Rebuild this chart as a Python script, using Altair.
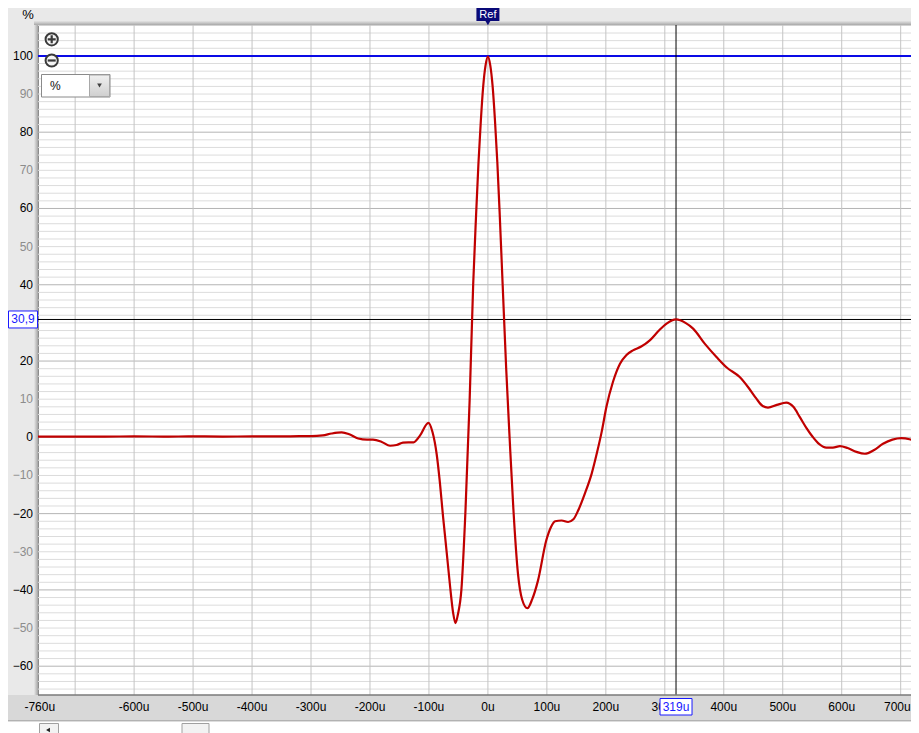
import altair as alt
import pandas as pd

# ---------------- data ----------------
t_us = [-763, -700, -650, -600, -550, -500, -450, -400, -350, -320, -300, -280, -265,
        -248, -235, -220, -205, -195, -180, -166, -155, -144, -135, -126, -115, -101,
        -94, -87, -82, -76, -70, -64, -59, -55, -51, -45, -38, -31, -25, -20, -16, -12,
        -8, -4, 0, 4, 8, 12, 16, 20, 25, 31, 37, 43, 51, 58, 67, 75, 85, 99, 107, 114, 125, 136,
        145, 153, 165, 176, 185, 193, 201, 212, 224, 235, 246, 260, 275, 290, 303, 319,
        335, 348, 368, 388, 405, 427, 442, 455, 466, 475, 490, 506, 518, 529, 540, 551,
        562, 574, 585, 597, 610, 625, 639, 655, 670, 686, 701, 715, 731]
pct = [0.2, 0.2, 0.2, 0.25, 0.2, 0.25, 0.2, 0.25, 0.25, 0.3, 0.3, 0.5, 1.0,
       1.3, 0.8, -0.3, -0.6, -0.6, -1.2, -2.2, -2.0, -1.4, -1.3, -1.3, 0.5, 3.8,
       1.4, -4.3, -11.0, -20.9, -30.0, -39.3, -46.0, -48.7, -46.5, -40.0, -19.0, 9.7, 40.0, 58.5, 72.0, 83.0,
       92.0, 97.5, 99.8, 97.5, 92.0, 83.0, 72.0, 58.5, 40.0, 18.0, -0.8, -18.3, -35.8, -42.5, -44.8, -42.5, -37.5, -27.0, -23.5, -22.0, -21.8, -22.2,
       -21.5, -19.2, -14.5, -9.5, -4.0, 1.5, 8.0, 14.5, 19.3, 21.6, 22.8, 23.8, 25.5, 28.0, 29.8, 30.9,
       30.0, 28.5, 24.5, 21.0, 18.3, 15.8, 13.0, 10.2, 8.2, 7.8, 8.5, 9.1, 8.0, 5.3, 2.5, 0.1,
       -1.8, -2.7, -2.7, -2.3, -2.8, -3.8, -4.3, -3.3, -1.7, -0.6, -0.2, -0.5, -1.5]

x_grid_ticks = [-700, -600, -500, -400, -300, -200, -100, 0, 100, 200, 300, 400, 500, 600, 700]
x_label_ticks = [-760, -600, -500, -400, -300, -200, -100, 0, 100, 200, 300, 400, 500, 600, 700]
y_grid_ticks = list(range(-66, 109, 2))
y_label_ticks = [-60, -50, -40, -30, -20, -10, 0, 10, 20, 40, 50, 60, 70, 80, 90, 100]

ref_level = 100.0
cursor_t = 319
cursor_val = 30.9
cursor_t_label = "319u"
cursor_val_label = "30,9"
unit_label = "%"
ref_label = "Ref"

# ---------------- layout ----------------
W, H = 873, 670
FONT = "Liberation Sans"
one = pd.DataFrame({"k": [0]})
xs = alt.Scale(domain=[-763, 717.5], nice=False, zero=False)
ys = alt.Scale(domain=[-67.55, 108.1], nice=False, zero=False)
BLUE_TXT = "#1a1aff"
NAVY = "#0a0a78"

df = pd.DataFrame({"t": t_us, "v": pct})

# grid lines
x_grid = alt.Chart(pd.DataFrame({"t": x_grid_ticks})).mark_rule(color="#c4c4c4", strokeWidth=1).encode(
    x=alt.X("t:Q", scale=xs, axis=None))
y_grid = alt.Chart(pd.DataFrame({"v": y_grid_ticks})).mark_rule(strokeWidth=1).encode(
    y=alt.Y("v:Q", scale=ys, axis=None),
    color=alt.condition("datum.v % 20 === 0", alt.value("#b4b4b4"), alt.value("#dcdcdc")))

# reference level line (blue)
ref_rule = alt.Chart(pd.DataFrame({"v": [ref_level]})).mark_rule(
    color="#0a0ae6", strokeWidth=2).encode(y=alt.Y("v:Q", scale=ys, axis=None))

# cursor lines
cur_v = alt.Chart(pd.DataFrame({"t": [cursor_t]})).mark_rule(color="black", strokeWidth=1).encode(
    x=alt.X("t:Q", scale=xs, axis=None))
cur_h = alt.Chart(pd.DataFrame({"v": [cursor_val]})).mark_rule(color="black", strokeWidth=1).encode(
    y=alt.Y("v:Q", scale=ys, axis=None))

# the curve
curve = alt.Chart(df).mark_line(color="#c00000", strokeWidth=2.2, interpolate="monotone",
                                clip=True).encode(
    x=alt.X("t:Q", scale=xs, axis=None),
    y=alt.Y("v:Q", scale=ys, axis=None),
)

# decorative frame pieces
left_edge = alt.Chart(one).mark_rect(fill={
    "gradient": "linear", "x1": 0, "y1": 0, "x2": 1, "y2": 0,
    "stops": [{"offset": 0, "color": "#e8e8e8"}, {"offset": 1, "color": "#a4a4a4"}]}).encode(
    x=alt.value(-4), x2=alt.value(0), y=alt.value(0), y2=alt.value(H))
top_edge = alt.Chart(one).mark_rect(fill={
    "gradient": "linear", "x1": 0, "y1": 0, "x2": 0, "y2": 1,
    "stops": [{"offset": 0, "color": "#e4e4e4"}, {"offset": 1, "color": "#a8a8a8"}]}).encode(
    x=alt.value(-4), x2=alt.value(W), y=alt.value(-4), y2=alt.value(0))
bottom_band = alt.Chart(one).mark_rect(fill="#d8d8d8").encode(
    x=alt.value(-30), x2=alt.value(W), y=alt.value(H), y2=alt.value(696))
band_line = alt.Chart(one).mark_rule(color="#8c8c8c", strokeWidth=1).encode(
    x=alt.value(-30), x2=alt.value(W), y=alt.value(696))
band_top = alt.Chart(one).mark_rule(color="#7a7a7a", strokeWidth=1.5).encode(
    x=alt.value(0), x2=alt.value(W), y=alt.value(H))
scroll_area = alt.Chart(one).mark_rect(fill="white").encode(
    x=alt.value(-30), x2=alt.value(W), y=alt.value(696.5), y2=alt.value(712))
scroll_btn = alt.Chart(one).mark_rect(fill="#f2f2f2", stroke="#a0a0a0", strokeWidth=1).encode(
    x=alt.value(1.5), x2=alt.value(20.5), y=alt.value(698.5), y2=alt.value(712))
scroll_arrow = alt.Chart(one).mark_point(shape="triangle-left", filled=True, size=20,
                                         color="#202020", opacity=1).encode(
    x=alt.value(10), y=alt.value(705))
scroll_thumb = alt.Chart(one).mark_rect(fill="#f2f2f2", stroke="#a0a0a0", strokeWidth=1).encode(
    x=alt.value(144), x2=alt.value(171), y=alt.value(698.5), y2=alt.value(712))

# axis labels as text
x_lab_base = alt.Chart(pd.DataFrame({"t": x_label_ticks})).transform_calculate(lab="datum.t + 'u'")
x_labels = x_lab_base.transform_filter("datum.t < 700").mark_text(
    font=FONT, fontSize=12, color="black", align="center", baseline="middle").encode(
    x=alt.X("t:Q", scale=xs, axis=None), y=alt.value(682), text="lab:N")
x_label_last = x_lab_base.transform_filter("datum.t >= 700").mark_text(
    font=FONT, fontSize=12, color="black", align="right", baseline="middle", dx=10).encode(
    x=alt.X("t:Q", scale=xs, axis=None), y=alt.value(682), text="lab:N")
y_labels = alt.Chart(pd.DataFrame({"v": y_label_ticks})).transform_calculate(
    lab="format(datum.v, 'd')").mark_text(font=FONT, fontSize=12, align="right",
                                           baseline="middle").encode(
    x=alt.value(-5), y=alt.Y("v:Q", scale=ys, axis=None), text="lab:N",
    color=alt.condition("datum.v % 20 === 0", alt.value("#000000"), alt.value("#8c8c8c")))

# cursor value boxes
yv_box = alt.Chart(one).mark_rect(fill="white", stroke=BLUE_TXT, strokeWidth=1, height=17).encode(
    x=alt.value(-29.5), x2=alt.value(-0.5), y=alt.YDatum(cursor_val, scale=ys, axis=None))
yv_txt = alt.Chart(one).mark_text(text=cursor_val_label, font=FONT, fontSize=12, color=BLUE_TXT,
                                  align="center", baseline="middle").encode(
    x=alt.value(-15), y=alt.YDatum(cursor_val, scale=ys, axis=None))
xv_box = alt.Chart(one).mark_rect(fill="white", stroke=BLUE_TXT, strokeWidth=1, width=32).encode(
    x=alt.XDatum(cursor_t, scale=xs, axis=None), y=alt.value(673.5), y2=alt.value(690))
xv_txt = alt.Chart(one).mark_text(text=cursor_t_label, font=FONT, fontSize=12, color=BLUE_TXT,
                                  align="center", baseline="middle").encode(
    x=alt.XDatum(cursor_t, scale=xs, axis=None), y=alt.value(682))

# Ref marker
ref_box = alt.Chart(one).mark_rect(fill=NAVY, width=23, height=13).encode(
    x=alt.XDatum(0, scale=xs, axis=None), y=alt.value(-10.5))
ref_tri = alt.Chart(one).mark_point(shape="triangle-down", filled=True, size=40,
                                    color=NAVY, opacity=1).encode(
    x=alt.XDatum(0, scale=xs, axis=None), y=alt.value(-2.5))
ref_txt = alt.Chart(one).mark_text(text=ref_label, font=FONT, fontSize=11, color="white",
                                   align="center", baseline="middle").encode(
    x=alt.XDatum(0, scale=xs, axis=None), y=alt.value(-10))

# unit label top-left
unit_txt = alt.Chart(one).mark_text(text=unit_label, font=FONT, fontSize=13, color="black",
                                    align="center", baseline="middle").encode(
    x=alt.value(-10), y=alt.value(-10.5))

# zoom widgets
zoom_circles = alt.Chart(pd.DataFrame({"yy": [14.3, 35.5]})).mark_point(
    shape="circle", size=150, filled=True, fill="#f4f4f4", stroke="#3a3a3a",
    strokeWidth=2, opacity=1).encode(x=alt.value(13.7), y=alt.Y("yy:Q", scale=None, axis=None))
zoom_plus = alt.Chart(one).mark_point(shape="M-1,0H1M0,-1V1", size=64, filled=False,
                                      stroke="#3a3a3a", strokeWidth=2.2, opacity=1).encode(
    x=alt.value(13.7), y=alt.value(14.3))
zoom_minus = alt.Chart(one).mark_point(shape="M-1,0H1", size=64, filled=False,
                                       stroke="#3a3a3a", strokeWidth=2.2, opacity=1).encode(
    x=alt.value(13.7), y=alt.value(35.5))

# dropdown
dd_box = alt.Chart(one).mark_rect(fill="white", stroke="#8a8a8a", strokeWidth=1).encode(
    x=alt.value(3.5), x2=alt.value(72), y=alt.value(49.5), y2=alt.value(72))
dd_btn = alt.Chart(one).mark_rect(fill={
    "gradient": "linear", "x1": 0, "y1": 0, "x2": 0, "y2": 1,
    "stops": [{"offset": 0, "color": "#f0f0f0"}, {"offset": 1, "color": "#cfcfcf"}]},
    stroke="#a8a8a8", strokeWidth=1).encode(
    x=alt.value(51.5), x2=alt.value(71.5), y=alt.value(50), y2=alt.value(71.5))
dd_tri = alt.Chart(one).mark_point(shape="triangle-down", filled=True, size=22,
                                   color="#404040", opacity=1).encode(
    x=alt.value(61.5), y=alt.value(60.5))
dd_txt = alt.Chart(one).mark_text(text=unit_label, font=FONT, fontSize=12, color="#101010",
                                  align="left", baseline="middle").encode(
    x=alt.value(12), y=alt.value(61))

chart = alt.layer(
    y_grid, x_grid, ref_rule, cur_v, cur_h, curve,
    left_edge, top_edge, bottom_band, band_top, band_line, scroll_area, scroll_btn, scroll_arrow,
    scroll_thumb,
    x_labels, x_label_last, y_labels, yv_box, yv_txt, xv_box, xv_txt,
    ref_tri, ref_box, ref_txt, unit_txt,
    zoom_circles, zoom_plus, zoom_minus, dd_box, dd_btn, dd_tri, dd_txt,
).properties(
    width=W, height=H,
    autosize=alt.AutoSizeParams(type="none"),
    padding={"left": 30, "top": 17, "right": 0, "bottom": 38},
).configure(
    background="#e9e9e9",
).configure_view(
    fill="white", stroke="#8c8c8c", strokeWidth=1,
)

chart.save("out.html", embed_options={"renderer": "svg", "actions": False})
